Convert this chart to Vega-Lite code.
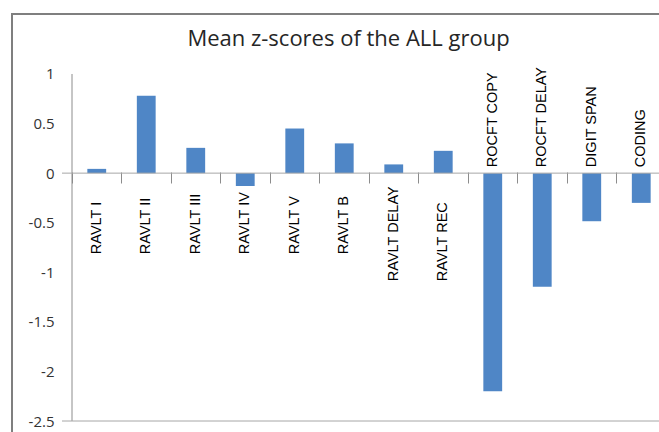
{
  "$schema": "https://vega.github.io/schema/vega-lite/v6.json",
  "autosize": {"type": "none"},
  "padding": {"left": 12, "top": 14, "right": -2, "bottom": -2},
  "width": 649,
  "height": 420,
  "background": "white",
  "config": {"view": {"stroke": "#7f7f7f", "strokeWidth": 2}},
  "title": {
    "text": "Mean z-scores of the ALL group",
    "font": "Open Sans",
    "fontSize": 22,
    "fontWeight": "normal",
    "color": "#262626",
    "anchor": "middle",
    "frame": "group",
    "offset": -54,
    "baseline": "alphabetic",
    "dx": 12
  },
  "data": {
    "values": [
      {"test": "RAVLT I", "z": 0.043},
      {"test": "RAVLT II", "z": 0.78},
      {"test": "RAVLT III", "z": 0.255},
      {"test": "RAVLT IV", "z": -0.13},
      {"test": "RAVLT V", "z": 0.45},
      {"test": "RAVLT B", "z": 0.3},
      {"test": "RAVLT DELAY", "z": 0.088},
      {"test": "RAVLT REC", "z": 0.225},
      {"test": "ROCFT COPY", "z": -2.2},
      {"test": "ROCFT DELAY", "z": -1.147},
      {"test": "DIGIT SPAN", "z": -0.485},
      {"test": "CODING", "z": -0.3}
    ]
  },
  "layer": [
    {
      "mark": {"type": "bar", "color": "#4f86c6", "width": {"band": 0.38}},
      "encoding": {
        "x": {
          "field": "test",
          "type": "nominal",
          "sort": null,
          "scale": {"range": [60, 654], "paddingInner": 0, "paddingOuter": 0},
          "axis": {
            "orient": "bottom",
            "offset": -262,
            "domain": false,
            "labels": false,
            "ticks": true,
            "tickSize": 11,
            "tickColor": "#8c8c8c",
            "bandPosition": 0,
            "grid": false,
            "title": null
          }
        },
        "y": {
          "field": "z",
          "type": "quantitative",
          "scale": {"domain": [-2.631, 1.605], "nice": false, "zero": false},
          "axis": {
            "orient": "left",
            "offset": -60,
            "values": [-2.5, -2, -1.5, -1, -0.5, 0, 0.5, 1],
            "labelExpr": "datum.value < 0 ? '-' + format(-datum.value, '~g') : format(datum.value, '~g')",
            "domain": false,
            "ticks": false,
            "tickSize": 0,
            "labelPadding": 18,
            "labelFont": "Open Sans",
            "labelFontSize": 15,
            "labelColor": "#333333",
            "grid": false,
            "title": null
          }
        }
      }
    },
    {
      "data": {"values": [{}]},
      "mark": {"type": "rule", "color": "#8c8c8c", "strokeWidth": 1},
      "encoding": {
        "x": {"datum": "RAVLT I", "bandPosition": 0},
        "y": {"datum": 1},
        "y2": {"datum": -2.5}
      }
    },
    {
      "data": {"values": [{"level": 0}, {"level": -2.5}]},
      "mark": {"type": "rule", "color": "#a6a6a6", "strokeWidth": 1, "xOffset": -10},
      "encoding": {
        "x": {"datum": "RAVLT I", "bandPosition": 0},
        "x2": {"datum": "CODING", "bandPosition": 1},
        "y": {"field": "level", "type": "quantitative"}
      }
    },
    {
      "transform": [{"filter": "indexof(['ROCFT COPY','ROCFT DELAY','DIGIT SPAN','CODING'], datum.test) < 0 && datum.test != 'RAVLT DELAY' && datum.test != 'RAVLT REC'"}],
      "mark": {"type": "text", "angle": 270, "align": "left", "baseline": "middle", "dx": -81, "font": "Liberation Sans", "fontSize": 14.5, "color": "#000000"},
      "encoding": {
        "x": {"field": "test", "type": "nominal", "sort": null},
        "y": {"datum": 0},
        "text": {"field": "test"}
      }
    },
    {
      "transform": [{"filter": "datum.test == 'RAVLT DELAY' || datum.test == 'RAVLT REC'"}],
      "mark": {"type": "text", "angle": 270, "align": "left", "baseline": "middle", "dx": -108, "font": "Liberation Sans", "fontSize": 14.5, "color": "#000000"},
      "encoding": {
        "x": {"field": "test", "type": "nominal", "sort": null},
        "y": {"datum": 0},
        "text": {"field": "test"}
      }
    },
    {
      "transform": [{"filter": "indexof(['ROCFT COPY','ROCFT DELAY','DIGIT SPAN','CODING'], datum.test) >= 0"}],
      "mark": {"type": "text", "angle": 270, "align": "left", "baseline": "middle", "dx": 6, "font": "Liberation Sans", "fontSize": 14.5, "color": "#000000"},
      "encoding": {
        "x": {"field": "test", "type": "nominal", "sort": null},
        "y": {"datum": 0},
        "text": {"field": "test"}
      }
    }
  ]
}
